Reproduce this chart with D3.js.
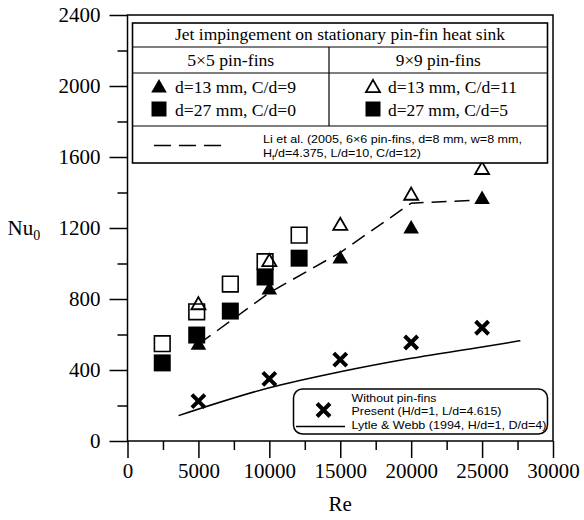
<!DOCTYPE html>
<html>
<head>
<meta charset="utf-8">
<script src="https://cdn.jsdelivr.net/npm/d3@7"></script>
<style>
  body { margin: 0; background: #fff; }
  text { fill: #000; }
</style>
</head>
<body>
<div id="chart"></div>
<script>
// Data
const reRuns = [5000, 10000, 15000, 20000, 25000];
const nuTri5 = [540, 850, 1025, 1195, 1360];      // 5x5, d=13 mm, C/d=9 (solid triangle)
const nuTri9 = [765, 1008, 1212, 1382, 1527];     // 9x9, d=13 mm, C/d=11 (open triangle)
const reSq = [2450, 4880, 7250, 9700, 12100];
const nuSq5 = [440, 597, 732, 924, 1030];          // 5x5, d=27 mm, C/d=0 (solid square)
const nuSq9 = [548, 728, 884, 1010, 1160];         // 9x9, d=27 mm, C/d=5 (open square)
const nuNoFin = [225, 350, 458, 555, 638];         // without pin-fins, present
const reLi = [5000, 10000, 15000, 20000, 25000];
const nuLi = [545, 835, 1062, 1340, 1358];         // Li et al. (2005)
const reLytle = [3600, 10000, 15000, 20000, 25000, 27700];
const nuLytle = [143, 300, 390, 466, 530, 565];    // Lytle & Webb (1994)

const yTicks = [0, 400, 800, 1200, 1600, 2000, 2400];
const xTicks = [0, 5000, 10000, 15000, 20000, 25000, 30000];

const serif = "Liberation Serif, Times New Roman, serif";
const sans = "Liberation Sans, Arial, sans-serif";

// Dimensions
const margin = { top: 15, right: 31, bottom: 79, left: 127.5 };
const width = 584 - margin.left - margin.right;
const height = 520 - margin.top - margin.bottom;

const svg = d3.select("#chart").append("svg")
    .attr("width", 584)
    .attr("height", 520)
    .append("g")
    .attr("transform", `translate(${margin.left},${margin.top})`);

const x = d3.scaleLinear().domain([0, 30000]).range([0, width]);
const y = d3.scaleLinear().domain([0, 2400]).range([height, 0]);

// Axes: major and minor ticks
svg.append("g")
    .call(d3.axisLeft(y).tickValues(yTicks).tickFormat(d3.format("d"))
        .tickSize(18).tickPadding(9).tickSizeOuter(0))
    .attr("font-family", serif)
    .attr("font-size", 21);
svg.append("g")
    .call(d3.axisLeft(y).tickValues(d3.range(200, 2400, 400)).tickSize(10).tickFormat("").tickSizeOuter(0));

svg.append("g")
    .attr("transform", `translate(0,${height})`)
    .call(d3.axisBottom(x).tickValues(xTicks).tickFormat(d3.format("d"))
        .tickSize(17).tickPadding(5).tickSizeOuter(0))
    .attr("font-family", serif)
    .attr("font-size", 21);
svg.append("g")
    .attr("transform", `translate(0,${height})`)
    .call(d3.axisBottom(x).tickValues(d3.range(2500, 30000, 5000)).tickSize(9).tickFormat("").tickSizeOuter(0));

svg.selectAll(".domain").remove();
svg.selectAll(".tick line").attr("stroke", "#000").attr("stroke-width", 1.5);

// Frame
svg.append("rect")
    .attr("width", width)
    .attr("height", height)
    .attr("fill", "none")
    .attr("stroke", "#000")
    .attr("stroke-width", 1.5);

// Axis labels
svg.append("text")
    .attr("x", x(15000))
    .attr("y", height + 70)
    .attr("text-anchor", "middle")
    .attr("font-family", serif)
    .attr("font-size", 21)
    .text("Re");

const nuLabel = svg.append("text")
    .attr("x", -120)
    .attr("y", y(1200) + 7)
    .attr("font-family", serif)
    .attr("font-size", 21);
nuLabel.append("tspan").text("Nu");
nuLabel.append("tspan").attr("dy", 5).attr("font-size", 14).text("0");

// Lines
const line = d3.line()
    .x(d => x(d[0]))
    .y(d => y(d[1]));

svg.append("path")
    .datum(d3.zip(reLytle, nuLytle))
    .attr("d", line.curve(d3.curveMonotoneX))
    .attr("fill", "none")
    .attr("stroke", "#000")
    .attr("stroke-width", 1.5);

svg.append("path")
    .datum(d3.zip(reLi, nuLi))
    .attr("d", d3.line().x(d => x(d[0])).y(d => y(d[1])))
    .attr("fill", "none")
    .attr("stroke", "#000")
    .attr("stroke-width", 1.5)
    .attr("stroke-dasharray", "15,8");

// Markers
const tri = d3.symbol().type(d3.symbolTriangle).size(105);
const triOpen = d3.symbol().type(d3.symbolTriangle).size(85);
const sq = d3.symbol().type(d3.symbolSquare).size(289);
const sqOpen = d3.symbol().type(d3.symbolSquare).size(245);
const cross = function(r) {
    return `M${-r},${-r}L${r},${r}M${-r},${r}L${r},${-r}`;
};

svg.selectAll(".sq5")
    .data(d3.zip(reSq, nuSq5))
    .enter().append("path")
    .attr("transform", d => `translate(${x(d[0])},${y(d[1])})`)
    .attr("d", sq)
    .attr("fill", "#000");

svg.selectAll(".sq9")
    .data(d3.zip(reSq, nuSq9))
    .enter().append("path")
    .attr("transform", d => `translate(${x(d[0])},${y(d[1])})`)
    .attr("d", sqOpen)
    .attr("fill", "none")
    .attr("stroke", "#000")
    .attr("stroke-width", 1.6);

svg.selectAll(".tri5")
    .data(d3.zip(reRuns, nuTri5))
    .enter().append("path")
    .attr("transform", d => `translate(${x(d[0])},${y(d[1])})`)
    .attr("d", tri)
    .attr("fill", "#000");

svg.selectAll(".tri9")
    .data(d3.zip(reRuns, nuTri9))
    .enter().append("path")
    .attr("transform", d => `translate(${x(d[0])},${y(d[1])})`)
    .attr("d", triOpen)
    .attr("fill", "none")
    .attr("stroke", "#000")
    .attr("stroke-width", 1.8);

svg.selectAll(".nofin")
    .data(d3.zip(reRuns, nuNoFin))
    .enter().append("path")
    .attr("transform", d => `translate(${x(d[0])},${y(d[1])})`)
    .attr("d", cross(6.5))
    .attr("fill", "none")
    .attr("stroke", "#000")
    .attr("stroke-width", 4);

// Top legend box (positions in svg coordinates)
const leg = d3.select("svg").append("g");
const lx0 = 132.5, lx1 = 547.5, lxm = 329;
const ly = [23, 47, 73, 126, 163];

leg.append("rect")
    .attr("x", lx0).attr("y", ly[0])
    .attr("width", lx1 - lx0).attr("height", ly[4] - ly[0])
    .attr("fill", "#fff")
    .attr("stroke", "#000").attr("stroke-width", 1.6);
[ly[1], ly[2], ly[3]].forEach(function(yy) {
    leg.append("line")
        .attr("x1", lx0).attr("x2", lx1)
        .attr("y1", yy).attr("y2", yy)
        .attr("stroke", "#000").attr("stroke-width", 1.2);
});
leg.append("line")
    .attr("x1", lxm).attr("x2", lxm)
    .attr("y1", ly[1]).attr("y2", ly[3])
    .attr("stroke", "#000").attr("stroke-width", 1.2);

// text stretched to the widths seen in the reference
const legText = function(g, tx, ty, str, len, font, size, anchor) {
    return g.append("text")
        .attr("x", tx).attr("y", ty)
        .attr("text-anchor", anchor || "start")
        .attr("font-family", font)
        .attr("font-size", size)
        .attr("textLength", len)
        .attr("lengthAdjust", "spacingAndGlyphs")
        .text(str);
};

legText(leg, (lx0 + lx1) / 2, 40, "Jet impingement on stationary pin-fin heat sink", 330, serif, 16.5, "middle");
legText(leg, (lx0 + lxm) / 2, 65.5, "5×5 pin-fins", 87, serif, 16.5, "middle");
legText(leg, (lxm + lx1) / 2, 65.5, "9×9 pin-fins", 85, serif, 16.5, "middle");

leg.append("path").attr("transform", "translate(159,88)").attr("d", tri).attr("fill", "#000");
legText(leg, 175, 93, "d=13 mm, C/d=9", 121, serif, 16.5);
leg.append("path").attr("transform", "translate(159,109)").attr("d", d3.symbol().type(d3.symbolSquare).size(225)).attr("fill", "#000");
legText(leg, 175, 116, "d=27 mm, C/d=0", 121, serif, 16.5);

leg.append("path").attr("transform", "translate(373,88)").attr("d", triOpen)
    .attr("fill", "none").attr("stroke", "#000").attr("stroke-width", 1.8);
legText(leg, 388, 93, "d=13 mm, C/d=11", 129, serif, 16.5);
leg.append("path").attr("transform", "translate(373,109)").attr("d", d3.symbol().type(d3.symbolSquare).size(225)).attr("fill", "#000");
legText(leg, 388, 116, "d=27 mm, C/d=5", 120, serif, 16.5);

leg.append("line")
    .attr("x1", 154).attr("x2", 224)
    .attr("y1", 145.5).attr("y2", 145.5)
    .attr("stroke", "#000").attr("stroke-width", 1.5)
    .attr("stroke-dasharray", "17,8");

legText(leg, 263, 142.5, "Li et al. (2005, 6×6 pin-fins, d=8 mm, w=8 mm,", 259, sans, 11.3);
const liLine2 = leg.append("text")
    .attr("x", 263).attr("y", 156.5)
    .attr("font-family", sans).attr("font-size", 11.3)
    .attr("textLength", 158)
    .attr("lengthAdjust", "spacingAndGlyphs");
liLine2.append("tspan").text("H");
liLine2.append("tspan").attr("dy", 3).attr("font-size", 8).text("f");
liLine2.append("tspan").attr("dy", -3).text("/d=4.375, L/d=10, C/d=12)");

// Bottom legend box
const leg2 = d3.select("svg").append("g");
leg2.append("rect")
    .attr("x", 293.5).attr("y", 389)
    .attr("width", 254).attr("height", 45)
    .attr("rx", 9).attr("ry", 9)
    .attr("fill", "#fff")
    .attr("stroke", "#000").attr("stroke-width", 1.5);
leg2.append("path")
    .attr("transform", "translate(323.5,410)")
    .attr("d", cross(6.5))
    .attr("fill", "none").attr("stroke", "#000").attr("stroke-width", 4);
leg2.append("line")
    .attr("x1", 296).attr("x2", 345)
    .attr("y1", 426.5).attr("y2", 426.5)
    .attr("stroke", "#000").attr("stroke-width", 1.5);

const bottomLabels = ["Without pin-fins", "Present (H/d=1, L/d=4.615)", "Lytle & Webb (1994, H/d=1, D/d=4)"];
const bottomLens = [85, 150, 195];
bottomLabels.forEach(function(s, i) {
    legText(leg2, 351.5, 401.5 + i * 13.6, s, bottomLens[i], sans, 11.3);
});
</script>
</body>
</html>
